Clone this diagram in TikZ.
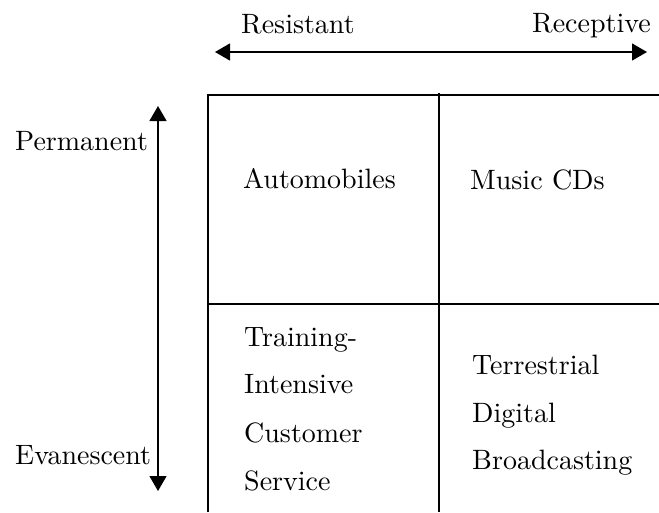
\documentclass[tikz,border=0pt]{standalone}
\usepackage{fontspec}
\setmainfont{lmroman10-regular.otf}
\usetikzlibrary{arrows.meta}
\begin{document}
\begin{tikzpicture}[x=1pt,y=-1pt,
  lbl/.style={anchor=base west,inner sep=0pt,font=\fontsize{28}{34}\selectfont},
  axis/.style={line width=1.3pt,{Triangle[length=15pt,width=17pt]}-{Triangle[length=15pt,width=17pt]}},
  frame/.style={line width=2.2pt},
  divider/.style={line width=1.2pt}]
\useasboundingbox (0,0) rectangle (659,512);

% axis labels
\node[lbl] (res) at (241,33) {Resistant};
\node[lbl] (rec) at (532,32) {Receptive};
\node[lbl] (perm) at (15,150) {Permanent};
\node[lbl] (evan) at (15,464) {Evanescent};

% axes
\coordinate (hl) at (215,52);
\coordinate (hr) at (647,52);
\coordinate (vt) at (158,106);
\coordinate (vb) at (158,491);
\draw[axis] (hl) -- (hr);
\draw[axis] (vt) -- (vb);

% grid
\coordinate (tl) at (208,95);
\coordinate (tr) at (659,95);
\coordinate (bl) at (208,512);
\coordinate (mt) at (439,93);
\coordinate (mb) at (439,512);
\coordinate (ml) at (208,304);
\coordinate (mr) at (659,304);
\draw[frame] (bl) -- (tl) -- (tr);
\draw[divider] (mt) -- (mb);
\draw[divider] (ml) -- (mr);

% cells
\node[lbl] (auto) at (243,188) {Automobiles};
\node[lbl] (music) at (470,189) {Music CDs};
\node[lbl] (tr1) at (244,346) {Training-};
\node[lbl] (tr2) at (244,393) {Intensive};
\node[lbl] (tr3) at (244,442) {Customer};
\node[lbl] (tr4) at (244,490) {Service};
\node[lbl] (tdb1) at (472,374) {Terrestrial};
\node[lbl] (tdb2) at (472,422) {Digital};
\node[lbl] (tdb3) at (472,469) {Broadcasting};
\end{tikzpicture}
\end{document}
